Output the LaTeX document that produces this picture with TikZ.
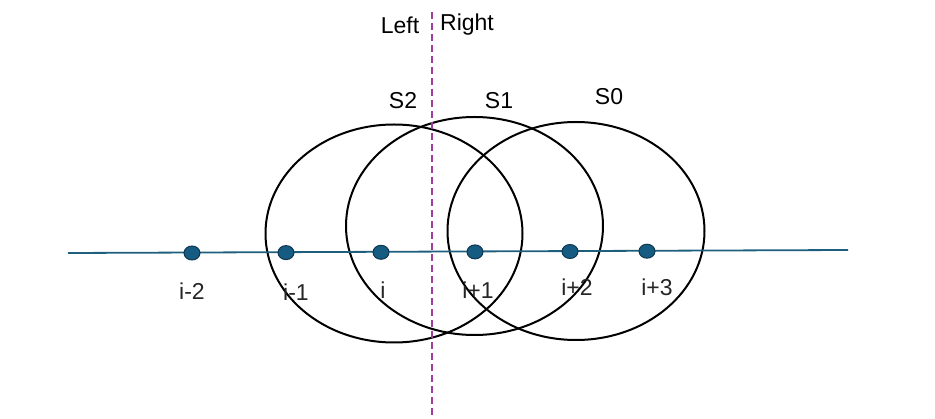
\documentclass[tikz,border=0pt]{standalone}
\usepackage{fontspec}
\setmainfont{Liberation Sans}
\usetikzlibrary{positioning,shapes.geometric}

\definecolor{axisteal}{RGB}{30,95,125}
\definecolor{dotblue}{RGB}{22,92,130}
\definecolor{dotedge}{RGB}{15,55,80}
\definecolor{splitpurple}{RGB}{160,60,160}

\begin{document}
\begin{tikzpicture}[
  x=1pt, y=-1pt,
  window/.style={draw, ellipse, line width=2pt, minimum width=257pt, minimum height=218pt, inner sep=0pt},
  point/.style={draw=dotedge, fill=dotblue, ellipse, line width=1pt, minimum width=16pt, minimum height=14pt, inner sep=0pt},
  idx/.style={font=\fontsize{23}{26}\selectfont, text=black!85, inner sep=1pt},
  tag/.style={font=\fontsize{23}{26}\selectfont, inner sep=1pt},
  axis/.style={axisteal, line width=1.8pt},
  split/.style={splitpurple, line width=2pt, dash pattern=on 7pt off 4pt}
]
\useasboundingbox (0,0) rectangle (935,419);

% sliding windows
\node[window] (s2) at (394,233.5) {};
\node[window] (s1) at (474.5,226) {};
\node[window] (s0) at (576,231) {};
\node[tag] (s2lbl) at (403,101) {S2};
\node[tag] (s1lbl) at (499,101) {S1};
\node[tag] (s0lbl) at (609,97) {S0};

% time axis
\coordinate (axisl) at (68,253);
\coordinate (axisr) at (848,250);
\draw[axis] (axisl) -- (axisr);

\node[point] (p1) at (192,253) {};
\node[point] (p2) at (286,252.6) {};
\node[point] (p3) at (381,252.3) {};
\node[point] (p4) at (475,251.9) {};
\node[point] (p5) at (570,251.5) {};
\node[point] (p6) at (647,251.2) {};

\node[idx] (l1) at (192,291) {i-2};
\node[idx] (l2) at (296,292) {i-1};
\node[idx] (l3) at (383,290) {i};
\node[idx] (l4) at (478,290) {i+1};
\node[idx] (l5) at (577,287) {i+2};
\node[idx] (l6) at (657,287) {i+3};

% left / right split
\coordinate (cuttop) at (432,12);
\coordinate (cutbot) at (432,419);
\draw[split] (cuttop) -- (cutbot);
\node[tag] (left) at (400,25) {Left};
\node[tag] (right) at (467,25) {Right};
\end{tikzpicture}
\end{document}
